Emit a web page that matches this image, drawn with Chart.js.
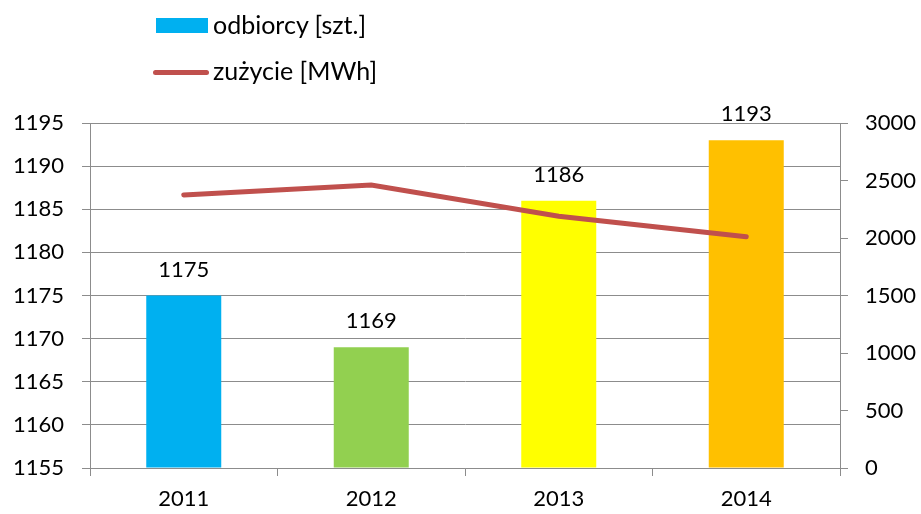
<!DOCTYPE html>
<html>
<head>
<meta charset="utf-8">
<script src="https://cdn.jsdelivr.net/npm/chart.js@4"></script>
<style>
    html, body { margin: 0; padding: 0; background: #fff; }
    #wrap { position: relative; width: 921px; height: 514px; }
    .legend { position: absolute; font-family: Lato, "Open Sans", sans-serif; font-size: 25px; color: #000; }
    .legend .sw { position: absolute; }
</style>
</head>
<body>
<div id="wrap">
    <canvas id="chart" width="921" height="514"></canvas>
    <div class="legend" style="left:156px; top:9px;">
        <span class="sw" style="left:0; top:9px; width:52px; height:15px; background:#00B0F0;"></span>
        <span style="position:absolute; left:57px; top:0; white-space:nowrap;">odbiorcy [szt.]</span>
    </div>
    <div class="legend" style="left:153px; top:55px;">
        <span class="sw" style="left:0; top:15px; width:56px; height:5px; border-radius:3px; background:#C0504D;"></span>
        <span style="position:absolute; left:60px; top:0; white-space:nowrap;">zużycie [MWh]</span>
    </div>
</div>
<script>
// dane
const years = ['2011', '2012', '2013', '2014'];
const odbiorcy = [1175, 1169, 1186, 1193];
const zuzycie = [2374, 2461, 2190, 2010];
const barColors = ['#00B0F0', '#92D050', '#FFFF00', '#FFC000'];

const gridColor = '#8C8C8C';
const font = { family: 'Lato, "Open Sans", sans-serif', size: 22 };

// etykiety nad słupkami
const barLabels = {
    id: 'barLabels',
    afterDatasetsDraw(chart) {
        const ctx = chart.ctx;
        const meta = chart.getDatasetMeta(0);
        ctx.save();
        ctx.font = `${font.size}px ${font.family}`;
        ctx.fillStyle = '#000';
        ctx.textAlign = 'center';
        ctx.textBaseline = 'middle';
        meta.data.forEach((bar, i) => {
            ctx.fillText(String(odbiorcy[i]), bar.x, bar.y - 26);
        });
        ctx.restore();
    }
};

new Chart(document.getElementById('chart'), {
    data: {
        labels: years,
        datasets: [
            {
                type: 'bar',
                label: 'odbiorcy [szt.]',
                data: odbiorcy,
                backgroundColor: barColors,
                yAxisID: 'y',
                order: 1,
                categoryPercentage: 1,
                barPercentage: 0.4,
                base: 1155
            },
            {
                type: 'line',
                label: 'zużycie [MWh]',
                data: zuzycie,
                borderColor: '#C0504D',
                borderWidth: 5,
                borderCapStyle: 'round',
                pointRadius: 0,
                tension: 0,
                yAxisID: 'y2',
                order: 0
            }
        ]
    },
    options: {
        responsive: false,
        animation: false,
        layout: { padding: { top: 123 } },
        plugins: {
            legend: { display: false },
            tooltip: { enabled: false }
        },
        scales: {
            x: {
                offset: true,
                grid: { offset: true, drawOnChartArea: false, drawTicks: true, tickLength: 8, color: gridColor },
                border: { color: gridColor },
                ticks: { color: '#000', font: font, padding: 10 },
                afterFit: s => { s.height = 46; }
            },
            y: {
                position: 'left',
                min: 1155,
                max: 1195,
                ticks: { stepSize: 5, color: '#000', font: font, padding: 18, callback: v => String(v) },
                grid: { color: gridColor, tickLength: 8 },
                border: { color: gridColor },
                afterFit: s => { s.width = 90; }
            },
            y2: {
                position: 'right',
                min: 0,
                max: 3000,
                ticks: { stepSize: 500, color: '#000', font: font, padding: 17, callback: v => String(v) },
                grid: { drawOnChartArea: false, color: gridColor, tickLength: 8 },
                border: { color: gridColor },
                afterFit: s => { s.width = 81; }
            }
        }
    },
    plugins: [barLabels]
});
</script>
</body>
</html>
